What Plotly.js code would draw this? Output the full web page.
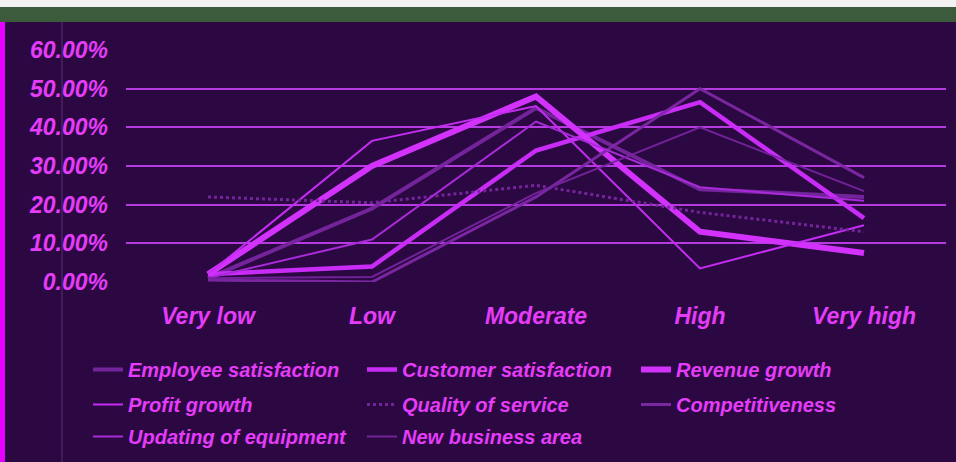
<!DOCTYPE html>
<html>
<head>
<meta charset="utf-8">
<script src="https://cdn.plot.ly/plotly-3.0.1.min.js"></script>
<style>
html,body{margin:0;padding:0;background:#2c0842;}
#chart{width:956px;height:462px;}
</style>
</head>
<body>
<div id="chart"></div>
<script>
const categories = ['Very low', 'Low', 'Moderate', 'High', 'Very high'];
const seriesNames = ['Employee satisfaction', 'Customer satisfaction', 'Revenue growth',
  'Profit growth', 'Quality of service', 'Competitiveness',
  'Updating of equipment', 'New business area'];
const employeeSatisfaction = [1, 19, 45, 24, 22];
const customerSatisfaction = [2, 4, 34, 46.5, 16.5];
const revenueGrowth = [2, 30, 48, 13, 7.5];
const profitGrowth = [2, 36.5, 45.5, 3.5, 14.7];
const qualityOfService = [22, 20.5, 25, 18, 13];
const competitiveness = [0.5, 0, 22, 50, 27];
const updatingOfEquipment = [1, 11, 41.5, 24.5, 21];
const newBusinessArea = [1, 1.3, 23, 40, 23.5];
const yTickValues = [0, 10, 20, 30, 40, 50, 60];
const yTickLabels = ['0.00%', '10.00%', '20.00%', '30.00%', '40.00%', '50.00%', '60.00%'];

const seriesValues = [employeeSatisfaction, customerSatisfaction, revenueGrowth, profitGrowth,
  qualityOfService, competitiveness, updatingOfEquipment, newBusinessArea];
const seriesStyles = [
  {color: 'rgba(120,38,160,0.95)', width: 4, dash: 'solid'},
  {color: '#c82cf6', width: 4.5, dash: 'solid'},
  {color: '#d232fc', width: 6, dash: 'solid'},
  {color: '#c42cf2', width: 2, dash: 'solid'},
  {color: 'rgba(120,38,160,0.95)', width: 3, dash: 'dot'},
  {color: 'rgba(125,40,165,0.95)', width: 3, dash: 'solid'},
  {color: '#a82ad8', width: 2, dash: 'solid'},
  {color: 'rgba(118,36,158,0.95)', width: 2, dash: 'solid'}
];
const legendIds = ['legend', 'legend', 'legend', 'legend2', 'legend2', 'legend2', 'legend3', 'legend3'];

const traces = seriesNames.map((name, i) => ({
  type: 'scatter', mode: 'lines', name: name,
  x: categories, y: seriesValues[i],
  line: seriesStyles[i], hoverinfo: 'skip',
  legend: legendIds[i]
}));

const W = 956, H = 462, ML = 126, MR = 10, MT = 50, MB = 180;
const PW = W - ML - MR, PH = H - MT - MB;
const px = v => (v - ML) / PW;
const py = v => (H - MB - v) / PH;

const textColor = '#e43cf8';
const baseFont = {family: '"Liberation Sans", Arial, sans-serif', weight: 'bold', style: 'italic', color: textColor};
const legendBase = top => ({
  orientation: 'h', x: px(88), xanchor: 'left', y: py(top), yanchor: 'top',
  bgcolor: 'rgba(0,0,0,0)', borderwidth: 0,
  entrywidth: 229, entrywidthmode: 'pixels',
  font: Object.assign({size: 20}, baseFont),
  traceorder: 'normal'
});

const layout = {
  width: W, height: H,
  margin: {l: ML, r: MR, t: MT, b: MB, pad: 0, autoexpand: false},
  paper_bgcolor: '#2c0842',
  plot_bgcolor: '#2c0842',
  showlegend: true,
  hovermode: false,
  xaxis: {
    type: 'category', range: [-0.5, 4.5], automargin: false,
    showgrid: false, zeroline: false, showline: false, ticks: '',
    ticklabelstandoff: 18,
    tickfont: Object.assign({size: 23}, baseFont)
  },
  yaxis: {
    range: [0, 60], tickmode: 'array', tickvals: yTickValues, ticktext: yTickLabels,
    automargin: false,
    showgrid: true, gridcolor: '#b53ae0', gridwidth: 2,
    zeroline: true, zerolinecolor: 'rgba(0,0,0,0)',
    showline: false, ticks: '',
    ticklabelstandoff: 17,
    tickfont: Object.assign({size: 23}, baseFont)
  },
  legend: legendBase(350),
  legend2: legendBase(385),
  legend3: legendBase(417),
  shapes: [
    {type: 'rect', xref: 'paper', yref: 'paper', x0: px(0), x1: px(W), y0: py(0), y1: py(7),
      fillcolor: '#f2f2f2', line: {width: 0}, layer: 'above'},
    {type: 'rect', xref: 'paper', yref: 'paper', x0: px(0), x1: px(W), y0: py(7), y1: py(22),
      fillcolor: '#3c5a3c', line: {width: 0}, layer: 'above'},
    {type: 'rect', xref: 'paper', yref: 'paper', x0: px(0), x1: px(5), y0: py(22), y1: py(H),
      fillcolor: '#e600ff', line: {width: 0}, layer: 'above'},
    {type: 'line', xref: 'paper', yref: 'paper', x0: px(62), x1: px(62), y0: py(22), y1: py(H),
      line: {color: 'rgba(150,90,180,0.45)', width: 1}, layer: 'below'}
  ]
};

Plotly.newPlot('chart', traces, layout, {displayModeBar: false, staticPlot: true});
</script>
</body>
</html>
